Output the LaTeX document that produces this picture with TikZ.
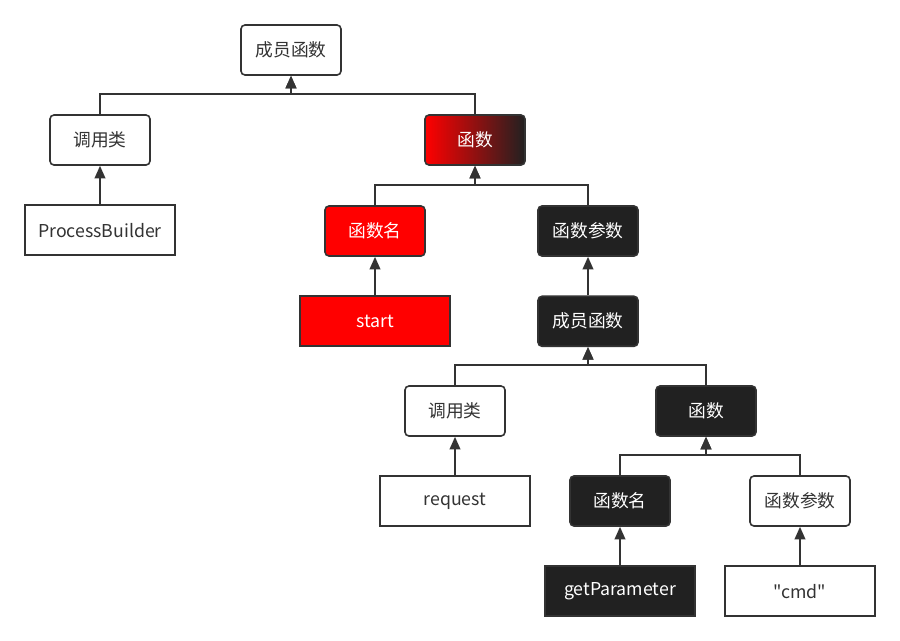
\documentclass[tikz,border=0pt]{standalone}
\usepackage{fontspec}
\newfontfamily\cjk{Noto Sans CJK SC}
\usetikzlibrary{arrows.meta,positioning}
\definecolor{ink}{HTML}{333333}
\definecolor{coal}{HTML}{212121}

\begin{document}
\begin{tikzpicture}[%
        x=0.75pt, y=-0.75pt,
        box/.style={draw=ink, line width=1.2pt, rounded corners=3pt,
          minimum width=75pt, minimum height=37.5pt, inner sep=0pt,
          font=\cjk\fontsize{13.3}{15}\selectfont},
        leaf/.style={box, sharp corners, minimum width=112.5pt},
        plain/.style={fill=white, text=ink},
        redbox/.style={fill=red, text=white},
        darkbox/.style={fill=coal, text=white},
        link/.style={draw=ink, line width=1.5pt, -{Triangle[width=8pt,length=9.5pt]}},
        node distance=29pt
      ]
      \useasboundingbox (0,0) rectangle (900,640);
      \fill[white] (0,0) rectangle (900,640);
      % top level
      \node [box, plain] (member) at (291,50) {成员函数};
      \node [box, plain] (caller) at (100,140) {调用类};
      \node [box, left color=red, right color=coal, text=white] (func) at (475,140) {函数};
      \node [leaf, plain, below=of caller] (builder) {ProcessBuilder};
      \node [box, redbox] (fname) at (375,231) {函数名};
      \node [box, darkbox] (fargs) at (588,231) {函数参数};
      \node [leaf, redbox, below=of fname] (start) {start};
      \node [box, darkbox, below=of fargs] (member2) {成员函数};
      % inner call
      \node [box, plain] (caller2) at (455,411) {调用类};
      \node [box, darkbox] (func2) at (706,411) {函数};
      \node [leaf, plain, below=of caller2] (request) {request};
      \node [box, darkbox] (fname2) at (620,501) {函数名};
      \node [box, plain] (fargs2) at (800,501) {函数参数};
      \node [leaf, darkbox, below=of fname2] (getparam) {getParameter};
      \node [leaf, plain, below=of fargs2] (cmd) {"cmd"};
      % connectors
      \draw [link] (caller.north) -- ++(0,-20) -| (member.south);
      \draw [link] (func.north) -- ++(0,-20) -| (member.south);
      \draw [link] (builder) -- (caller);
      \draw [link] (fname.north) -- ++(0,-20) -| (func.south);
      \draw [link] (fargs.north) -- ++(0,-20) -| (func.south);
      \draw [link] (start) -- (fname);
      \draw [link] (member2) -- (fargs);
      \draw [link] (caller2.north) -- ++(0,-20) -| (member2.south);
      \draw [link] (func2.north) -- ++(0,-20) -| (member2.south);
      \draw [link] (request) -- (caller2);
      \draw [link] (fname2.north) -- ++(0,-20) -| (func2.south);
      \draw [link] (fargs2.north) -- ++(0,-20) -| (func2.south);
      \draw [link] (getparam) -- (fname2);
      \draw [link] (cmd) -- (fargs2);
    \end{tikzpicture}
\end{document}
